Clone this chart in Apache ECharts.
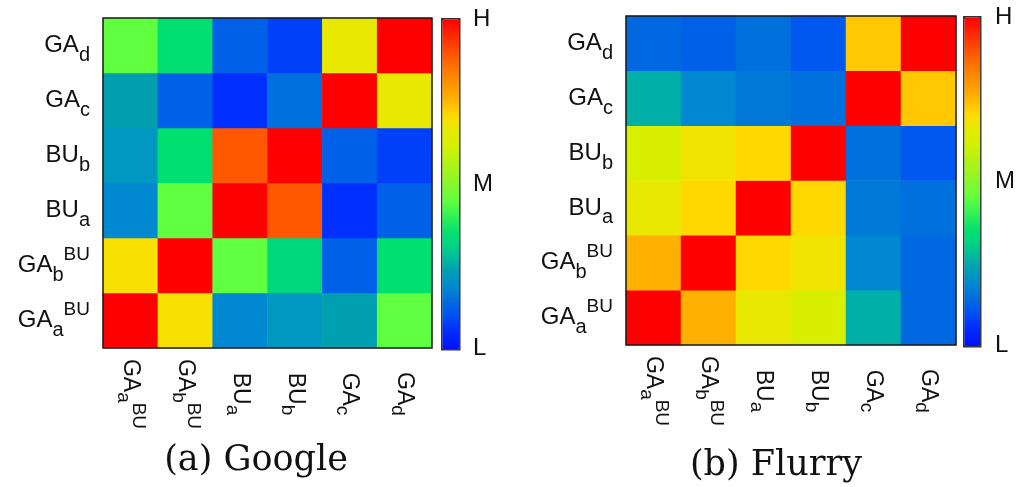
<!DOCTYPE html>
<html>
<head>
<meta charset="utf-8">
<script src="https://cdn.jsdelivr.net/npm/echarts@6/dist/echarts.min.js"></script>
<style>
html, body { margin: 0; padding: 0; background: #fff; }
#char { width: 1018px; height: 487px; }
</style>
</head>
<body>
<div id="char"></div>
<script>
// category labels, bottom row first (category y axis starts at the bottom)
const labelMain = ['GA', 'GA', 'BU', 'BU', 'GA', 'GA'];
const labelSub = ['a', 'b', 'a', 'b', 'c', 'd'];
const labelSup = ['BU', 'BU', '', '', '', ''];
const categories = ['GAaBU', 'GAbBU', 'BUa', 'BUb', 'GAc', 'GAd'];

// (a) Google, each row over columns GAaBU, GAbBU, BUa, BUb, GAc, GAd (0 = L, 1 = H)
const googleGAaBU = [1.00, 0.69, 0.19, 0.22, 0.24, 0.45];
const googleGAbBU = [0.69, 1.00, 0.45, 0.32, 0.125, 0.35];
const googleBUa = [0.19, 0.45, 1.00, 0.89, 0.06, 0.125];
const googleBUb = [0.22, 0.35, 0.89, 1.00, 0.125, 0.08];
const googleGAc = [0.24, 0.125, 0.06, 0.15, 1.00, 0.67];
const googleGAd = [0.45, 0.35, 0.125, 0.08, 0.67, 1.00];

// (b) Flurry
const flurryGAaBU = [1.00, 0.76, 0.67, 0.62, 0.26, 0.14];
const flurryGAbBU = [0.76, 1.00, 0.71, 0.68, 0.19, 0.14];
const flurryBUa = [0.67, 0.71, 1.00, 0.71, 0.16, 0.15];
const flurryBUb = [0.62, 0.68, 0.71, 1.00, 0.15, 0.11];
const flurryGAc = [0.26, 0.19, 0.16, 0.15, 1.00, 0.73];
const flurryGAd = [0.14, 0.125, 0.15, 0.11, 0.73, 1.00];

const googleRows = [googleGAaBU, googleGAbBU, googleBUa, googleBUb, googleGAc, googleGAd];
const flurryRows = [flurryGAaBU, flurryGAbBU, flurryBUa, flurryBUb, flurryGAc, flurryGAd];

// jet-like palette (position, colour)
const paletteStops = [
    [0.00, '#0010ff'], [0.06, '#0030ff'], [0.08, '#0040f8'], [0.11, '#0058f0'],
    [0.14, '#0068e0'], [0.16, '#0078d8'], [0.19, '#0088d0'], [0.22, '#0098c0'],
    [0.24, '#00a0b0'], [0.26, '#00b0a8'], [0.32, '#00d880'], [0.35, '#00e070'],
    [0.45, '#60ff40'], [0.49, '#80f830'], [0.62, '#d8f000'], [0.67, '#e8e800'],
    [0.69, '#f8e000'], [0.71, '#ffd800'], [0.73, '#ffc800'], [0.76, '#ffb000'],
    [0.86, '#ff7000'], [1.00, '#ff0000']
];

function hexToRgb(h) {
    return [parseInt(h.substr(1, 2), 16), parseInt(h.substr(3, 2), 16), parseInt(h.substr(5, 2), 16)];
}
function buildPalette(n) {
    const out = [];
    for (let i = 0; i <= n; i++) {
        const t = i / n;
        let k = 0;
        while (k < paletteStops.length - 2 && paletteStops[k + 1][0] < t) k++;
        const a = paletteStops[k], b = paletteStops[k + 1];
        const f = Math.min(1, Math.max(0, (t - a[0]) / (b[0] - a[0])));
        const ca = hexToRgb(a[1]), cb = hexToRgb(b[1]);
        const c = ca.map((v, j) => Math.round(v + (cb[j] - v) * f));
        out.push('rgb(' + c.join(',') + ')');
    }
    return out;
}
const palette = buildPalette(200);

function toCells(rows) {
    const cells = [];
    rows.forEach((row, y) => row.forEach((v, x) => cells.push([x, y, v])));
    return cells;
}
function richLabel(value, index) {
    let s = '{m|' + labelMain[index] + '}{s|' + labelSub[index] + '}';
    if (labelSup[index]) s += '{p|' + labelSup[index] + '}';
    return s;
}

const labelFont = 'Liberation Sans';
const yRich = {
    m: { fontSize: 24, fontFamily: labelFont, color: '#111', lineHeight: 40 },
    s: { fontSize: 20, fontFamily: labelFont, color: '#111', lineHeight: 24, verticalAlign: 'bottom' },
    p: { fontSize: 19, fontFamily: labelFont, color: '#111', lineHeight: 18, verticalAlign: 'top' }
};
const xRich = {
    m: { fontSize: 23, fontFamily: labelFont, color: '#111', lineHeight: 34 },
    s: { fontSize: 19, fontFamily: labelFont, color: '#111', lineHeight: 28, verticalAlign: 'bottom' },
    p: { fontSize: 19, fontFamily: labelFont, color: '#111', lineHeight: 12, verticalAlign: 'top' }
};

const grids = [
    { left: 103, top: 18, width: 329, height: 330 },
    { left: 626, top: 16, width: 330, height: 329 }
];
const bars = [
    { left: 441, top: 18, w: 17, h: 330, tx: 473 },
    { left: 963, top: 16, w: 16, h: 329, tx: 995 }
];
const captions = [
    { text: '(a) Google', x: 256, y: 461 },
    { text: '(b) Flurry', x: 776, y: 466 }
];

const charEch = echarts.init(document.getElementById('char'));
const option = {
    animation: false,
    backgroundColor: '#fff',
    grid: grids.map(g => ({
        left: g.left, top: g.top, width: g.width, height: g.height,
        show: true, z: 5, borderColor: '#1a1a1a', borderWidth: 1.5, backgroundColor: 'transparent'
    })),
    xAxis: grids.map((g, i) => ({
        type: 'category', gridIndex: i, data: categories,
        axisLine: { show: false }, axisTick: { show: false },
        splitArea: { show: false }, splitLine: { show: false },
        axisLabel: { interval: 0, rotate: -90, align: 'center', margin: 46, formatter: richLabel, rich: xRich }
    })),
    yAxis: grids.map((g, i) => ({
        type: 'category', gridIndex: i, data: categories,
        axisLine: { show: false }, axisTick: { show: false },
        splitArea: { show: false }, splitLine: { show: false },
        axisLabel: { interval: 0, margin: 13, formatter: richLabel, rich: yRich }
    })),
    visualMap: bars.map((b, i) => ({
        type: 'continuous', seriesIndex: i, min: 0, max: 1,
        calculable: false, hoverLink: false, orient: 'vertical',
        left: b.left, top: b.top, itemWidth: b.w, itemHeight: b.h,
        padding: 0, borderColor: '#333', borderWidth: 2.5,
        inRange: { color: palette }
    })),
    series: [googleRows, flurryRows].map((rows, i) => ({
        type: 'heatmap', xAxisIndex: i, yAxisIndex: i,
        data: toCells(rows),
        itemStyle: { borderWidth: 0 },
        emphasis: { disabled: true }
    })),
    graphic: []
};
bars.forEach(b => {
    [['H', b.top + 1], ['M', b.top + b.h / 2 + 1], ['L', b.top + b.h]].forEach(t => {
        option.graphic.push({
            type: 'text', x: b.tx, y: t[1],
            style: { text: t[0], font: '24px "Liberation Sans"', fill: '#111', textAlign: 'left', textVerticalAlign: 'middle' }
        });
    });
});
captions.forEach(c => {
    option.graphic.push({
        type: 'text', x: c.x, y: c.y,
        style: { text: c.text, font: '35px "DejaVu Serif"', fill: '#111', textAlign: 'center', textVerticalAlign: 'middle' }
    });
});
charEch.setOption(option, true);
</script>
</body>
</html>
